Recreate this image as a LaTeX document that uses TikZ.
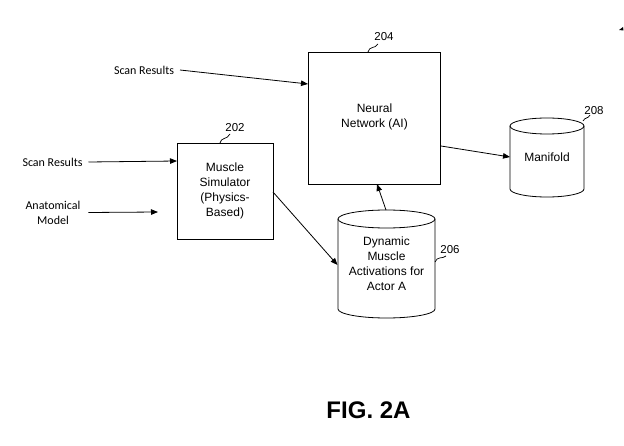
\documentclass[tikz,border=0pt]{standalone}
\usepackage{fontspec}
\setmainfont{Liberation Sans}
\newfontfamily\calfont{Carlito}
\usetikzlibrary{arrows.meta,calc}
\begin{document}
\begin{tikzpicture}[x=1bp,y=-1bp,
  line width=0.8bp,
  every node/.style={inner sep=0pt,outer sep=0pt},
  boxtext/.style={font=\fontsize{12bp}{15bp}\selectfont,align=center},
  sidelabel/.style={font=\calfont\fontsize{12bp}{15bp}\selectfont,align=center},
  reflabel/.style={font=\fontsize{11.5bp}{14bp}\selectfont},
  blockbox/.style={draw,boxtext,minimum width=#1,minimum height=#1},
  cylbody/.style={boxtext,minimum height=#1},
  arr/.style={-{Triangle[length=7bp,width=5.5bp]}},
  tilde/.style={line width=0.7bp}]
\useasboundingbox (0,0) rectangle (624,446);

% blocks
\node[blockbox=96bp] (ms) at (225,191) {Muscle\\Simulator\\(Physics-\\Based)};
\node[blockbox=132bp] (nn) at (374.5,118) {};
\node[boxtext] (nnt) at (374.5,116.5) {Neural\\Network (AI)};

% Manifold cylinder
\node[cylbody=63bp,minimum width=74bp] (mf) at (547,157.5) {Manifold};
\draw (mf.north west) -- (mf.south west)
      arc[start angle=180,end angle=360,x radius=37bp,y radius=8bp]
      -- (mf.north east);
\draw (mf.north) ellipse[x radius=37bp,y radius=8bp];

% Dynamic muscle activations cylinder
\node[cylbody=90bp,minimum width=97bp] (da) at (386.5,264) {Dynamic\\Muscle\\Activations for\\Actor A};
\draw (da.north west) -- (da.south west)
      arc[start angle=180,end angle=360,x radius=48.5bp,y radius=9bp]
      -- (da.north east);
\draw (da.north) ellipse[x radius=48.5bp,y radius=9bp];

% side labels
\node[sidelabel] (sr1) at (144,70) {Scan Results};
\node[sidelabel] (sr2) at (52.5,162) {Scan Results};
\node[sidelabel] (am) at (53,212.5) {Anatomical\\Model};

% free ends
\coordinate (nnin) at (308,84);
\coordinate (msin) at (177,161);
\coordinate (amend) at (158,212);
\coordinate (msout) at (273,192);
\coordinate (dain) at (337.5,265);
\coordinate (datop) at (386,210);
\coordinate (nnbot) at (377,184);
\coordinate (nnout) at (441,146);
\coordinate (mfin) at (510,157);

% connectors
\draw[arr] ($(sr1.east)+(6,0)$) -- (nnin);
\draw[arr] ($(sr2.east)+(6,0)$) -- (msin);
\draw[arr] ($(am.east)+(8,0)$) -- (amend);
\draw[arr] (msout) -- (dain);
\draw[arr] (datop) -- (nnbot);
\draw[arr] (nnout) -- (mfin);

% reference numerals
\node[reflabel] (r202) at (235,128) {202};
\node[reflabel] (r204) at (384,37) {204};
\node[reflabel] (r208) at (594,111) {208};
\node[reflabel] (r206) at (450,250) {206};
\draw[tilde] (220,143) .. controls (221,137) and (227,140) .. (230,134);
\draw[tilde] (368,52) .. controls (369,46) and (375,49) .. (378,44);
\draw[tilde] (583,121) .. controls (585,117) and (588,119) .. (590,115);
\draw[tilde] (435,262) .. controls (437,256) and (443,259) .. (446,256);

% corner fragment
\fill (619,30) -- (623,27) -- (623.5,30.5) -- cycle;

% figure caption
\node[font=\bfseries\fontsize{24bp}{28bp}\selectfont] (fig) at (368.5,410) {FIG. 2A};
\end{tikzpicture}
\end{document}
